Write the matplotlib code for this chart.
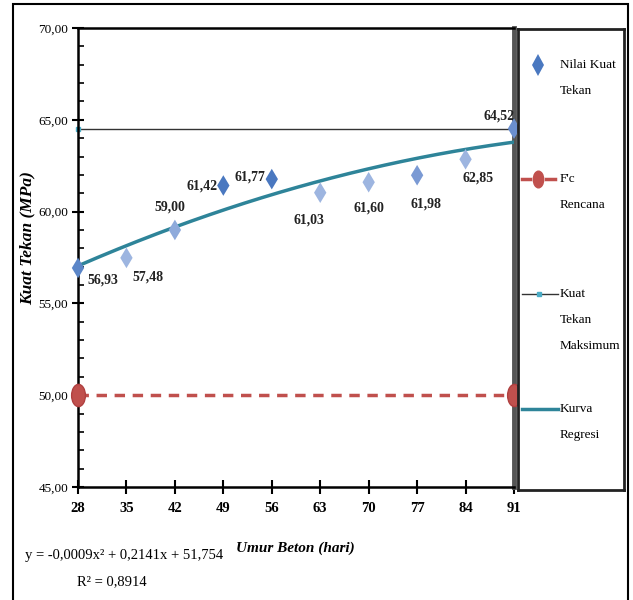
import numpy as np
import matplotlib
matplotlib.use("Agg")
import matplotlib.pyplot as plt
from matplotlib.patches import Rectangle
from matplotlib.path import Path
from matplotlib.transforms import Affine2D
from matplotlib.ticker import FuncFormatter, MultipleLocator

plt.rcParams['font.family'] = ['Liberation Serif', 'DejaVu Serif']

# data
umur = [28, 35, 42, 49, 56, 63, 70, 77, 84, 91]
kuat_tekan = [56.93, 57.48, 59.00, 61.42, 61.77, 61.03, 61.60, 61.98, 62.85, 64.52]
fc_rencana = 50.0
kuat_maks = 64.52
reg_coef = [-0.0009, 0.2141, 51.754]
x_ticks = [28, 35, 42, 49, 56, 63, 70, 77, 84, 91]

# marker shades (scanned picture has uneven blues)
pt_colors = ['#5b86c8', '#9db5e0', '#8eaadb', '#4a78c0', '#4a78c0',
             '#9db5e0', '#9db5e0', '#7b9ad4', '#9db5e0', '#6b8fcf']
# label offsets in pixels (dx, dy, ha)
lbl_off = [(25, -12, 'center'), (22, -19, 'center'), (-5, 23, 'center'),
           (-6, 0, 'right'), (-6, 2, 'right'), (-11, -27, 'center'),
           (0, -26, 'center'), (9, -29, 'center'), (13, -19, 'center'),
           (-15, 13, 'center')]

ellipse = Path.unit_circle().transformed(Affine2D().scale(0.62, 1.0))

fig = plt.figure(figsize=(6.33, 6.0), dpi=100)
ax = fig.add_axes([78/633, 1-487/600, 436/633, 459/600])

# regression curve
xr = np.linspace(28, 91, 200)
ax.plot(xr, np.polyval(reg_coef, xr), color='#2e8499', lw=2.5, zorder=3)

# max line
ax.plot([28, 91], [kuat_maks, kuat_maks], color='#333333', lw=1.0,
        marker='s', ms=3.5, mfc='#4bacc6', mec='#4bacc6', zorder=2, clip_on=False)

# design strength
ax.plot([28, 91], [fc_rencana, fc_rencana], color='#c0504d', lw=2.5,
        dashes=(3, 2.2), marker=ellipse, ms=16, mfc='#c0504d', mec='#b04040',
        zorder=4, clip_on=False)

# measured points
ax.scatter(umur, kuat_tekan, marker='d', s=110, c=pt_colors, zorder=5, clip_on=False,
           linewidths=0)
for x, y, (dx, dy, ha) in zip(umur, kuat_tekan, lbl_off):
    ax.annotate(f"{y:.2f}".replace('.', ','), (x, y), xytext=(dx, dy),
                textcoords='offset pixels', ha=ha, va='center',
                fontsize=10, fontweight='bold', color='#222222')

ax.set_xlim(28, 91)
ax.set_ylim(45, 70)
ax.set_xticks(x_ticks)
ax.yaxis.set_major_locator(MultipleLocator(5))
ax.yaxis.set_minor_locator(MultipleLocator(1))
ax.yaxis.set_major_formatter(FuncFormatter(lambda v, p: f"{v:.2f}".replace('.', ',')))
ax.tick_params(axis='y', which='major', direction='inout', length=8, width=1.5,
               labelsize=9.5, pad=3)
ax.tick_params(axis='y', which='minor', direction='in', length=4, width=1.2)
ax.tick_params(axis='x', which='major', direction='inout', length=10, width=1.5,
               labelsize=10.5, pad=6)
for lab in ax.get_xticklabels():
    lab.set_fontweight('bold')
for s in ['left', 'bottom', 'top']:
    ax.spines[s].set_linewidth(1.8)
    ax.spines[s].set_color('black')
ax.spines['right'].set_linewidth(3.5)
ax.spines['right'].set_color('#555555')

fig.text(28/633, 1-238/600, 'Kuat Tekan (MPa)', rotation=90, ha='center',
         va='center', fontsize=12.5, fontweight='bold', fontstyle='italic')
fig.text(295/633, 1-548/600, 'Umur Beton (hari)', ha='center', va='center',
         fontsize=11, fontweight='bold', fontstyle='italic')
fig.text(25/633, 1-555/600, 'y = -0,0009x² + 0,2141x + 51,754', ha='left',
         va='center', fontsize=10.5)
fig.text(112/633, 1-582/600, 'R² = 0,8914', ha='center', va='center', fontsize=10.5)

# legend box drawn by hand
lax = fig.add_axes([518/633, 1-490/600, 106/633, 461/600])
lax.set_xlim(0, 106)
lax.set_ylim(461, 0)
lax.set_xticks([])
lax.set_yticks([])
for s in lax.spines.values():
    s.set_linewidth(2.0)
    s.set_color('#222222')

tx = 42
leg_labels = [['Nilai Kuat', 'Tekan'], ["F'c", 'Rencana'],
              ['Kuat', 'Tekan', 'Maksimum'], ['Kurva', 'Regresi']]
leg_y = [36, 150, 265, 380]
for lines, y0 in zip(leg_labels, leg_y):
    for i, t in enumerate(lines):
        lax.text(tx, y0 + i*26, t, ha='left', va='center', fontsize=9.5)

lax.plot([20], [leg_y[0]], marker='d', ms=11, color='#4a78c0', mew=0)
lax.plot([4, 12], [leg_y[1]] * 2, color='#c0504d', lw=2.5)
lax.plot([28, 37], [leg_y[1]] * 2, color='#c0504d', lw=2.5)
lax.plot([20], [leg_y[1]], marker=ellipse, ms=12, color='#c0504d')
lax.plot([4, 40], [leg_y[2]] * 2, color='#333333', lw=1.0)
lax.plot([21], [leg_y[2]], marker='s', ms=3.5, color='#4bacc6')
lax.plot([4, 40], [leg_y[3]] * 2, color='#2e8499', lw=2.5)

# outer frame of the scanned figure
fig.patches.append(Rectangle((13/633, -0.05), 615/633, 1.05-4/600,
                             transform=fig.transFigure, fill=False,
                             lw=1.5, ec='black'))

fig.savefig('out.png', dpi=100)
